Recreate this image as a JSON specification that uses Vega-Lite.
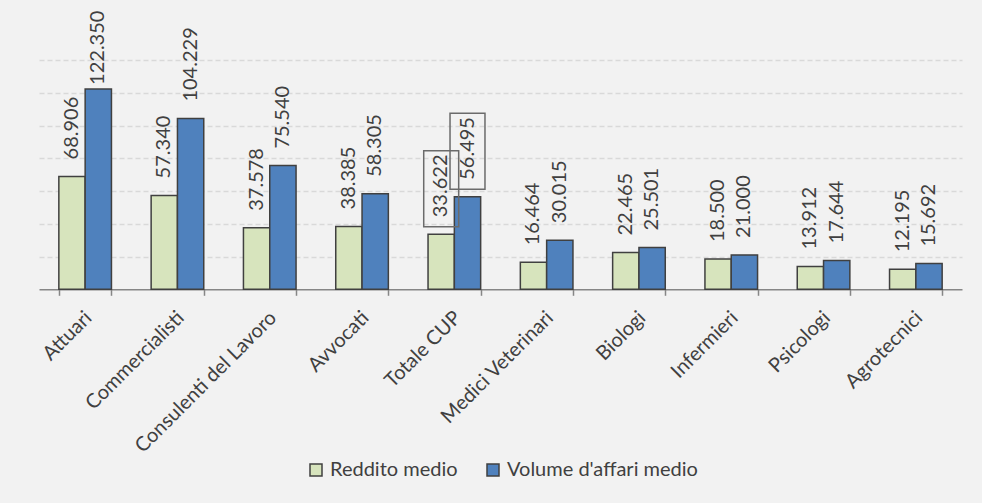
{
  "$schema": "https://vega.github.io/schema/vega-lite/v6.json",
  "autosize": "none",
  "width": 923,
  "height": 229.3,
  "padding": {"left": 39, "top": 60, "right": 20, "bottom": 213.7},
  "background": "#f2f2f2",
  "config": {
    "locale": {"number": {"decimal": ",", "thousands": ".", "grouping": [3], "currency": ["€", ""]}},
    "view": {"stroke": null},
    "font": "Lato",
    "axisY": {
      "title": null,
      "labels": false,
      "ticks": false,
      "domain": false,
      "grid": true,
      "gridColor": "#d9d9d9",
      "gridWidth": 1.3,
      "gridDash": [5, 3]
    }
  },
  "datasets": {
    "main": [
      {"cat": "Attuari", "serie": "Reddito medio", "val": 68906},
      {"cat": "Attuari", "serie": "Volume d'affari medio", "val": 122350},
      {"cat": "Commercialisti", "serie": "Reddito medio", "val": 57340},
      {"cat": "Commercialisti", "serie": "Volume d'affari medio", "val": 104229},
      {"cat": "Consulenti del Lavoro", "serie": "Reddito medio", "val": 37578},
      {"cat": "Consulenti del Lavoro", "serie": "Volume d'affari medio", "val": 75540},
      {"cat": "Avvocati", "serie": "Reddito medio", "val": 38385},
      {"cat": "Avvocati", "serie": "Volume d'affari medio", "val": 58305},
      {"cat": "Totale CUP", "serie": "Reddito medio", "val": 33622},
      {"cat": "Totale CUP", "serie": "Volume d'affari medio", "val": 56495},
      {"cat": "Medici Veterinari", "serie": "Reddito medio", "val": 16464},
      {"cat": "Medici Veterinari", "serie": "Volume d'affari medio", "val": 30015},
      {"cat": "Biologi", "serie": "Reddito medio", "val": 22465},
      {"cat": "Biologi", "serie": "Volume d'affari medio", "val": 25501},
      {"cat": "Infermieri", "serie": "Reddito medio", "val": 18500},
      {"cat": "Infermieri", "serie": "Volume d'affari medio", "val": 21000},
      {"cat": "Psicologi", "serie": "Reddito medio", "val": 13912},
      {"cat": "Psicologi", "serie": "Volume d'affari medio", "val": 17644},
      {"cat": "Agrotecnici", "serie": "Reddito medio", "val": 12195},
      {"cat": "Agrotecnici", "serie": "Volume d'affari medio", "val": 15692}
    ],
    "boxes": [
      {"cat": "Totale CUP", "serie": "Reddito medio", "mid": 61400},
      {"cat": "Totale CUP", "serie": "Volume d'affari medio", "mid": 84250}
    ]
  },
  "encoding": {
    "x": {
      "field": "cat",
      "type": "nominal",
      "scale": {
        "domain": ["Attuari", "Commercialisti", "Consulenti del Lavoro", "Avvocati", "Totale CUP", "Medici Veterinari", "Biologi", "Infermieri", "Psicologi", "Agrotecnici"],
        "paddingInner": 0.43,
        "paddingOuter": 0.215
      },
      "axis": {
        "title": null,
        "labelAngle": -45,
        "labelAlign": "right",
        "labelBaseline": "top",
        "labelOffset": -4,
        "labelPadding": 12,
        "labelLimit": 0,
        "labelFont": "Lato",
        "labelFontSize": 20,
        "labelColor": "#404040",
        "domainColor": "#868686",
        "domainWidth": 1.5,
        "tickColor": "#868686",
        "tickWidth": 1.5,
        "tickSize": 6,
        "tickBand": "extent",
        "grid": false
      }
    },
    "xOffset": {
      "field": "serie",
      "type": "nominal",
      "scale": {"domain": ["Reddito medio", "Volume d'affari medio"], "paddingInner": 0, "paddingOuter": 0}
    }
  },
  "layer": [
    {
      "data": {"name": "main"},
      "mark": {"type": "bar", "stroke": "#404040", "strokeWidth": 1.5},
      "encoding": {
        "y": {
          "field": "val",
          "type": "quantitative",
          "scale": {"domain": [0, 140000], "nice": false},
          "axis": {"values": [20000, 40000, 60000, 80000, 100000, 120000, 140000]}
        },
        "color": {
          "field": "serie",
          "type": "nominal",
          "scale": {"domain": ["Reddito medio", "Volume d'affari medio"], "range": ["#d7e4bd", "#4f81bd"]},
          "legend": {
            "title": null,
            "orient": "none",
            "direction": "horizontal",
            "legendX": 267,
            "legendY": 400,
            "symbolType": "square",
            "symbolSize": 144,
            "symbolStrokeColor": "#404040",
            "symbolStrokeWidth": 1.5,
            "symbolOpacity": 1,
            "labelFont": "Lato",
            "labelFontSize": 20,
            "labelColor": "#404040",
            "labelOffset": 4,
            "labelLimit": 0,
            "columnPadding": 25
          }
        }
      }
    },
    {
      "data": {"name": "main"},
      "transform": [{"filter": "datum.val < 110000"}],
      "mark": {"type": "text", "angle": 270, "align": "left", "baseline": "middle", "dx": 17, "font": "Lato", "fontSize": 20, "color": "#404040"},
      "encoding": {
        "y": {"field": "val", "type": "quantitative", "axis": {"values": [20000, 40000, 60000, 80000, 100000, 120000, 140000]}},
        "text": {"field": "val", "type": "quantitative", "format": ",d"}
      }
    },
    {
      "data": {"name": "main"},
      "transform": [{"filter": "datum.val >= 110000"}],
      "mark": {"type": "text", "angle": 270, "align": "left", "baseline": "middle", "dx": 4, "font": "Lato", "fontSize": 20, "color": "#404040"},
      "encoding": {
        "y": {"field": "val", "type": "quantitative", "axis": {"values": [20000, 40000, 60000, 80000, 100000, 120000, 140000]}},
        "text": {"field": "val", "type": "quantitative", "format": ",d"}
      }
    },
    {
      "data": {"name": "boxes"},
      "mark": {"type": "point", "shape": "M-0.46,-1H0.46V1H-0.46Z", "size": 5776, "filled": false, "opacity": 1, "stroke": "#6b6b6b", "strokeWidth": 1.5},
      "encoding": {
        "y": {"field": "mid", "type": "quantitative", "axis": {"values": [20000, 40000, 60000, 80000, 100000, 120000, 140000]}}
      }
    }
  ]
}
